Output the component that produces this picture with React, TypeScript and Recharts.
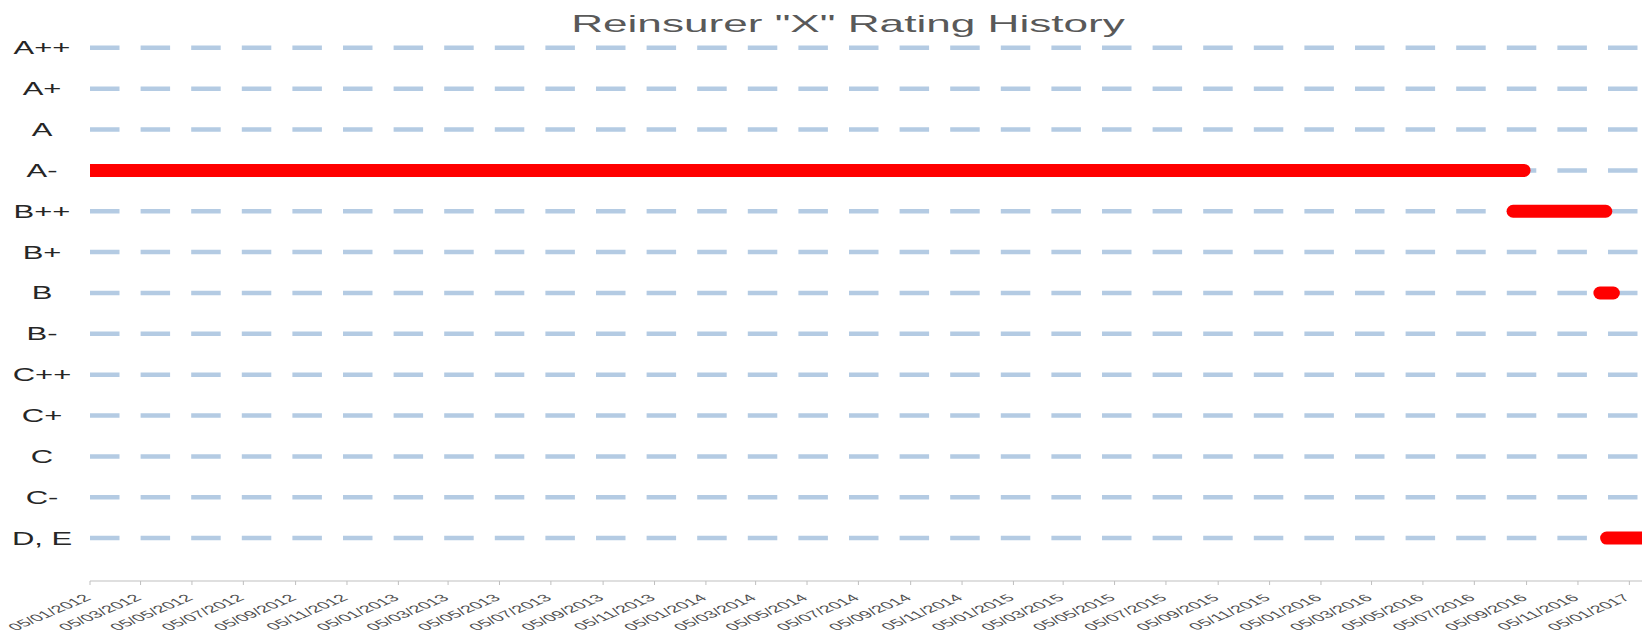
import { CartesianGrid, Line, LineChart, XAxis, YAxis } from "recharts";

// rating scale, bottom to top
const ratingLabels = ["D, E", "C-", "C", "C+", "C++", "B-", "B", "B+", "B++", "A-", "A", "A+", "A++"];

const tickLabels = [
  "05/01/2012", "05/03/2012", "05/05/2012", "05/07/2012", "05/09/2012", "05/11/2012",
  "05/01/2013", "05/03/2013", "05/05/2013", "05/07/2013", "05/09/2013", "05/11/2013",
  "05/01/2014", "05/03/2014", "05/05/2014", "05/07/2014", "05/09/2014", "05/11/2014",
  "05/01/2015", "05/03/2015", "05/05/2015", "05/07/2015", "05/09/2015", "05/11/2015",
  "05/01/2016", "05/03/2016", "05/05/2016", "05/07/2016", "05/09/2016", "05/11/2016",
  "05/01/2017",
];

// rating periods
const periodRatings = ["A-", "B++", "B", "D, E"];
const periodStarts = ["05/01/2012", "20/08/2016", "01/12/2016", "09/12/2016"];
const periodEnds = ["02/09/2016", "08/12/2016", "17/12/2016", "01/02/2017"];

const domainStart = "05/01/2012";
const domainEnd = "20/01/2017";

function parseDate(s: string) {
  const [d, m, y] = s.split("/").map(Number);
  return Date.UTC(y, m - 1, d);
}

const tickValues = tickLabels.map(parseDate);

const periods = periodRatings.map((r, i) => ({
  key: r,
  data: [
    { t: parseDate(periodStarts[i]), r: ratingLabels.indexOf(r) },
    { t: parseDate(periodEnds[i]), r: ratingLabels.indexOf(r) },
  ],
}));

const FONT = "'Liberation Sans', Arial, sans-serif";

function RatingTick({ y, payload }: any) {
  return (
    <g transform={`translate(42,${y + 6.5}) scale(1.72,1)`}>
      <text textAnchor="middle" fontSize={18} fill="#262626" fontFamily={FONT}>
        {ratingLabels[payload.value]}
      </text>
    </g>
  );
}

// the original picture is stretched sideways, so labels are rotated then widened
function DateTick({ x, y, payload, index }: any) {
  return (
    <g transform={`translate(${x + 2},${y + 12}) scale(2,1) rotate(-40)`}>
      <text textAnchor="end" fontSize={10} fill="#505050" fontFamily={FONT}>
        {tickLabels[index] ?? payload.value}
      </text>
    </g>
  );
}

export default function App() {
  return (
    <div style={{ position: "absolute", left: 0, top: 0, width: 1642, height: 637, background: "#fff", fontFamily: FONT }}>
      <LineChart width={1642} height={637} margin={{ top: 7, right: 0, bottom: 0, left: 0 }}>
        <CartesianGrid
          vertical={false}
          syncWithTicks
          stroke="#b4cbe3"
          strokeWidth={4.5}
          strokeDasharray="29.5 21.1"
        />
        <XAxis
          type="number"
          dataKey="t"
          domain={[parseDate(domainStart), parseDate(domainEnd)]}
          ticks={tickValues}
          interval={0}
          allowDataOverflow
          height={56}
          stroke="#bfbfbf"
          tickSize={4}
          tick={(p: any) => <DateTick {...p} />}
        />
        <YAxis
          type="number"
          dataKey="r"
          domain={[-1.05, 13]}
          ticks={ratingLabels.map((_, i) => i)}
          interval={0}
          width={90}
          axisLine={false}
          tickLine={false}
          tick={(p: any) => <RatingTick {...p} />}
        />
        {periods.map((p) => (
          <Line
            key={p.key}
            data={p.data}
            dataKey="r"
            type="linear"
            stroke="#ff0000"
            strokeWidth={13}
            strokeLinecap="round"
            dot={false}
            activeDot={false}
            isAnimationActive={false}
          />
        ))}
      </LineChart>
      <svg
        width={1642}
        height={60}
        style={{ position: "absolute", left: 0, top: 0, pointerEvents: "none" }}
      >
        <g transform="translate(848,32) scale(1.84,1)">
          <text textAnchor="middle" fontSize={24} fill="#595959" fontFamily={FONT}>
            Reinsurer "X" Rating History
          </text>
        </g>
      </svg>
    </div>
  );
}
